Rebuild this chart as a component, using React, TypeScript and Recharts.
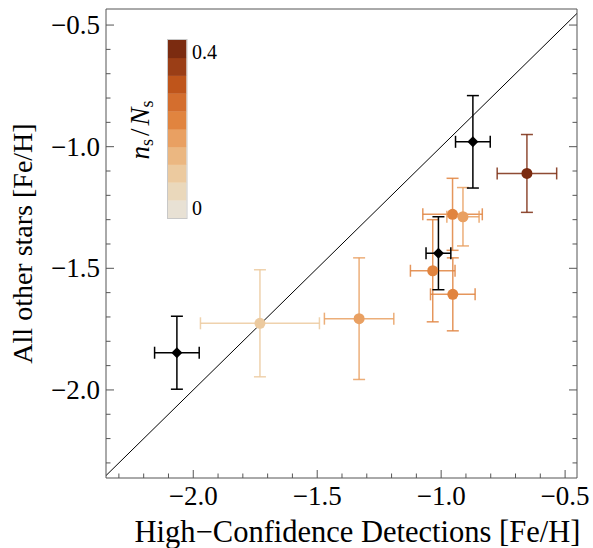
import React from "react";
import { ScatterChart, Scatter, XAxis, YAxis, ErrorBar, ReferenceLine } from "recharts";

// [Fe/H] of the high-confidence detections (x) vs all other stars (y)
const xFeH = [-2.066, -1.731, -1.331, -0.872, -0.654, -0.954, -0.912, -1.011, -1.034, -0.953];
const yFeH = [-1.847, -1.726, -1.707, -0.98, -1.11, -1.278, -1.288, -1.438, -1.51, -1.607];
const xErr = [0.09, 0.24, 0.14, 0.07, 0.12, 0.12, 0.065, 0.05, 0.09, 0.09];
const yErr = [0.15, 0.22, 0.25, 0.19, 0.16, 0.148, 0.12, 0.15, 0.21, 0.15];
// n_s/N_s for each point, null -> black diamond
const nsFrac = [null, 0.1, 0.18, null, 0.4, 0.22, 0.18, null, 0.22, 0.22];

const X_DOMAIN = [-2.352, -0.452];
const Y_DOMAIN = [-2.362, -0.434];
const TICKS = [-2.3, -2.2, -2.1, -2.0, -1.9, -1.8, -1.7, -1.6, -1.5, -1.4, -1.3, -1.2, -1.1, -1.0, -0.9, -0.8, -0.7, -0.6, -0.5];

// colour bar, bottom (0) to top (0.4)
const BAND_COLORS = ["#e8e1d4", "#ead8bb", "#ecca9f", "#ebb781", "#e9a062", "#e1843f", "#d46e2e", "#bf551b", "#9b3e16", "#7b2b10"];
const NS_MAX = 0.4;
const COLORBAR_LABELS = ["0", "0.4"];

const FONT = "'Liberation Serif', 'DejaVu Serif', serif";
const FRAME = "#555";

const colorFor = (ns: number) =>
  BAND_COLORS[Math.min(BAND_COLORS.length - 1, Math.floor((ns / NS_MAX) * BAND_COLORS.length))];

const isMajor = (v: number) => Math.abs(v * 2 - Math.round(v * 2)) < 1e-6;
const fmt = (v: number) => v.toFixed(1).replace("-", "\u2212");
const tickLen = (v: number) => (isMajor(v) ? 8 : 4.5);

function BottomTick({ x, y, payload }: any) {
  const v = payload.value;
  return (
    <g>
      <line x1={x} x2={x} y1={y} y2={y - tickLen(v)} stroke={FRAME} />
      {isMajor(v) && (
        <text x={x} y={y + 27} textAnchor="middle" fontSize={27} fontFamily={FONT} fill="#000">
          {fmt(v)}
        </text>
      )}
    </g>
  );
}

function TopTick({ x, y, payload }: any) {
  return <line x1={x} x2={x} y1={y} y2={y + tickLen(payload.value)} stroke={FRAME} />;
}

function LeftTick({ x, y, payload }: any) {
  const v = payload.value;
  return (
    <g>
      <line x1={x} x2={x + tickLen(v)} y1={y} y2={y} stroke={FRAME} />
      {isMajor(v) && (
        <text x={x - 6} y={y + 9} textAnchor="end" fontSize={27} fontFamily={FONT} fill="#000">
          {fmt(v)}
        </text>
      )}
    </g>
  );
}

function RightTick({ x, y, payload }: any) {
  return <line x1={x} x2={x - tickLen(payload.value)} y1={y} y2={y} stroke={FRAME} />;
}

const Diamond = ({ cx, cy }: any) => {
  const r = 5.5;
  return <polygon points={`${cx},${cy - r} ${cx + r},${cy} ${cx},${cy + r} ${cx - r},${cy}`} fill="#000" />;
};

const Dot = (color: string) => ({ cx, cy }: any) => <circle cx={cx} cy={cy} r={5.5} fill={color} />;

function ColorBar() {
  const x = 168;
  const top = 40;
  const h = 178;
  const w = 18.5;
  const bh = h / BAND_COLORS.length;
  return (
    <svg width={593} height={548} style={{ position: "absolute", left: 0, top: 0, pointerEvents: "none" }}>
      {BAND_COLORS.map((c, i) => (
        <rect key={c} x={x} y={top + h - (i + 1) * bh} width={w} height={bh + 0.3} fill={c} />
      ))}
      <rect x={x - 0.5} y={top - 0.5} width={w + 1} height={h + 1} fill="none" stroke="#c8c8c8" />
      <text x={192} y={59} fontSize={20} fontFamily={FONT}>{COLORBAR_LABELS[1]}</text>
      <text x={192} y={215} fontSize={20} fontFamily={FONT}>{COLORBAR_LABELS[0]}</text>
      <text transform="translate(149,130) rotate(-90)" textAnchor="middle" fontSize={27} fontFamily={FONT}>
        <tspan fontStyle="italic">n</tspan>
        <tspan fontSize={18} dy={4}>s</tspan>
        <tspan dy={-4} dx={3}>/</tspan>
        <tspan fontStyle="italic" dx={3}>N</tspan>
        <tspan fontSize={18} dy={4}>s</tspan>
      </text>
    </svg>
  );
}

export default function App() {
  const points = xFeH.map((x, i) => ({ x, y: yFeH[i], ex: xErr[i], ey: yErr[i], ns: nsFrac[i] }));
  const coloured = points.filter((p) => p.ns !== null);
  const black = points.filter((p) => p.ns === null);

  return (
    <div style={{ position: "absolute", left: 0, top: 0, width: 593, height: 548, background: "#fff" }}>
      <ScatterChart width={593} height={548} margin={{ top: 8, right: 15, bottom: 0, left: 0 }}>
        <XAxis
          type="number"
          dataKey="x"
          domain={X_DOMAIN}
          allowDataOverflow
          ticks={TICKS}
          interval={0}
          tickSize={0}
          tickMargin={0}
          tick={<BottomTick />}
          height={70}
          axisLine={{ stroke: FRAME }}
          label={{
            content: ({ viewBox }: any) => (
              <text x={viewBox.x + viewBox.width / 2 + 16} y={viewBox.y + 64} textAnchor="middle" fontSize={30.5} fontFamily={FONT}>
                High{"\u2212"}Confidence Detections [Fe/H]
              </text>
            ),
          }}
        />
        <XAxis
          xAxisId="top"
          orientation="top"
          type="number"
          domain={X_DOMAIN}
          allowDataOverflow
          ticks={TICKS}
          interval={0}
          tickSize={0}
          tickMargin={0}
          tick={<TopTick />}
          height={1}
          axisLine={{ stroke: FRAME }}
        />
        <YAxis
          type="number"
          dataKey="y"
          domain={Y_DOMAIN}
          allowDataOverflow
          ticks={TICKS}
          interval={0}
          tickSize={0}
          tickMargin={0}
          tick={<LeftTick />}
          width={106}
          axisLine={{ stroke: FRAME }}
          label={{
            content: ({ viewBox }: any) => {
              const cx = viewBox.x + 32;
              const cy = viewBox.y + viewBox.height / 2;
              return (
                <text transform={`translate(${cx},${cy}) rotate(-90)`} textAnchor="middle" fontSize={28} fontFamily={FONT}>
                  All other stars [Fe/H]
                </text>
              );
            },
          }}
        />
        <YAxis
          yAxisId="right"
          orientation="right"
          type="number"
          domain={Y_DOMAIN}
          allowDataOverflow
          ticks={TICKS}
          interval={0}
          tickSize={0}
          tickMargin={0}
          tick={<RightTick />}
          width={1}
          axisLine={{ stroke: FRAME }}
        />
        <ReferenceLine
          segment={[
            { x: X_DOMAIN[0], y: X_DOMAIN[0] },
            { x: X_DOMAIN[1], y: X_DOMAIN[1] },
          ]}
          stroke="#000"
          strokeWidth={1}
        />
        {coloured.map((p, i) => {
          const c = colorFor(p.ns as number);
          return (
            <Scatter key={"c" + i} data={[p]} fill={c} shape={Dot(c)} isAnimationActive={false}>
              <ErrorBar dataKey="ex" direction="x" width={6} stroke={c} strokeOpacity={0.85} strokeWidth={1.5} />
              <ErrorBar dataKey="ey" direction="y" width={6} stroke={c} strokeOpacity={0.85} strokeWidth={1.5} />
            </Scatter>
          );
        })}
        {black.map((p, i) => (
          <Scatter key={"b" + i} data={[p]} fill="#000" shape={<Diamond />} isAnimationActive={false}>
            <ErrorBar dataKey="ex" direction="x" width={6} stroke="#000" strokeWidth={1.5} />
            <ErrorBar dataKey="ey" direction="y" width={6} stroke="#000" strokeWidth={1.5} />
          </Scatter>
        ))}
      </ScatterChart>
      <ColorBar />
    </div>
  );
}
